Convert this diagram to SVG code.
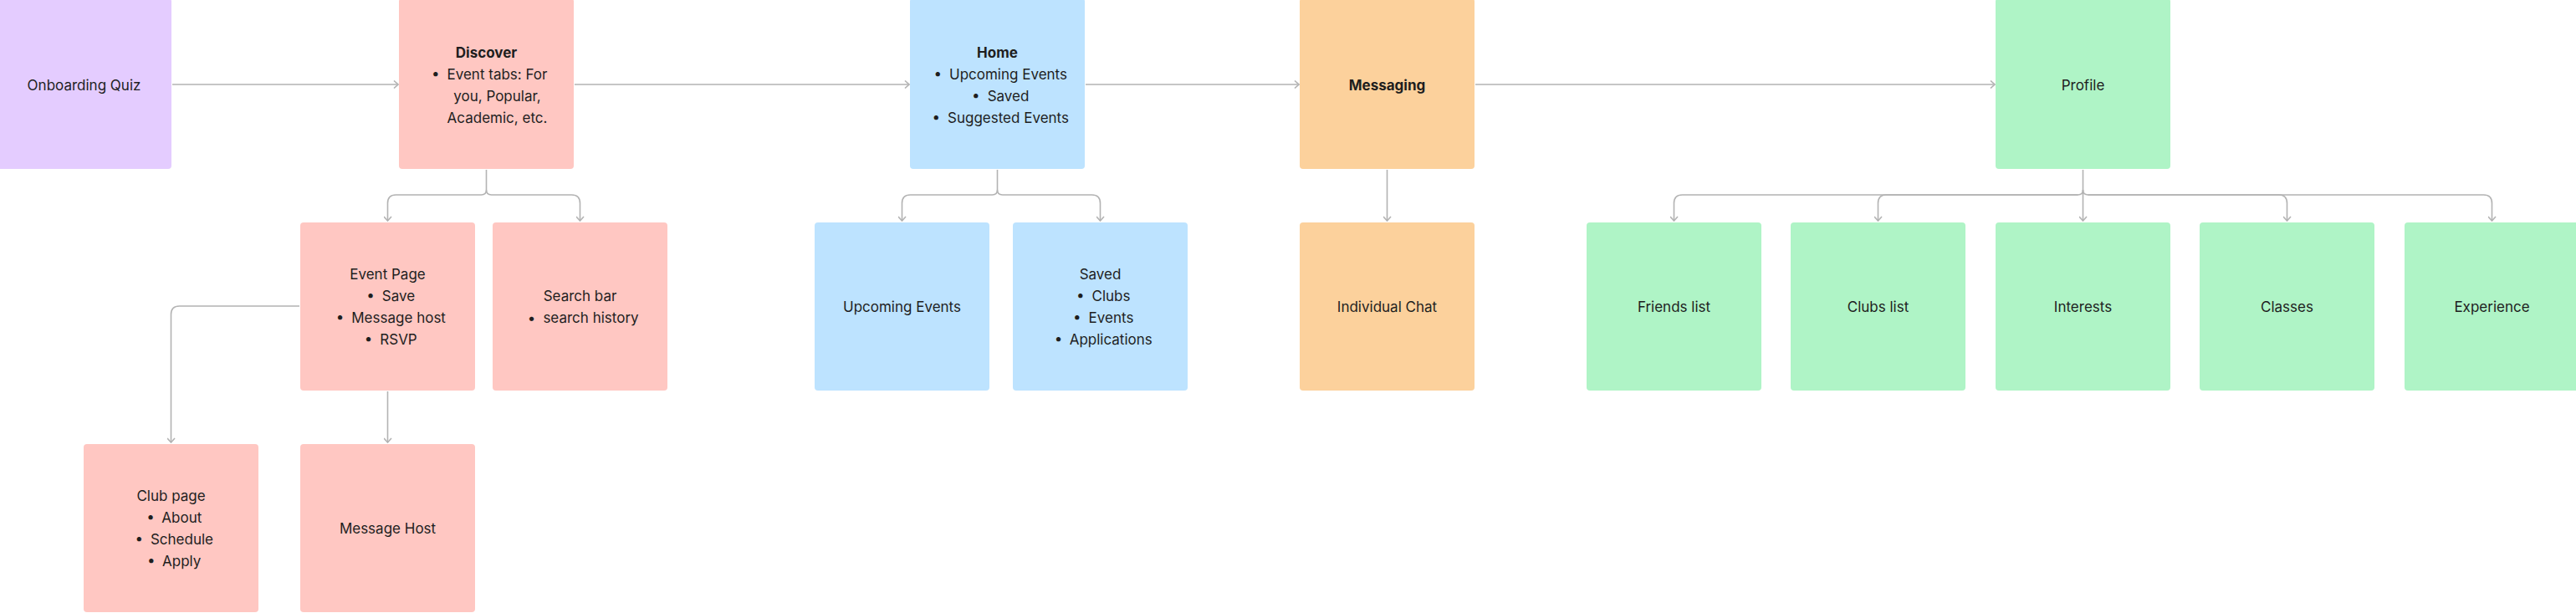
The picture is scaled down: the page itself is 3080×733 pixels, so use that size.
<svg xmlns="http://www.w3.org/2000/svg" width="3080" height="733" viewBox="0 0 3080 733">
<style>
.box{stroke:none}
.violet{fill:#E4CCFF}
.red{fill:#FFC7C2}
.blue{fill:#BDE3FF}
.orange{fill:#FCD19C}
.green{fill:#AFF4C6}
text{font-family:Inter,"Noto Sans","Liberation Sans",sans-serif;font-size:17px;fill:#1e1e1e;text-anchor:middle}
.b{font-weight:700}
.pad{fill:none}
.conn path{fill:none;stroke:#b3b3b3;stroke-width:1.6}
</style>
<defs>
<marker id="arr" viewBox="0 0 10 10" refX="9" refY="5" markerWidth="10" markerHeight="10" markerUnits="userSpaceOnUse" orient="auto">
<path d="M4,0.5 L9,5 L4,9.5" fill="none" stroke="#b3b3b3" stroke-width="1.6"/>
</marker>
</defs>
<rect width="3080" height="733" fill="#ffffff"/>

<g class="conn">
<path d="M206,101 H476" marker-end="url(#arr)"/>
<path d="M687,101 H1087" marker-end="url(#arr)"/>
<path d="M1298,101 H1553" marker-end="url(#arr)"/>
<path d="M1764,101 H2385" marker-end="url(#arr)"/>
<path d="M581.5,203 V227 Q581.5,233 575.5,233 H473.5 Q463.5,233 463.5,243 V264" marker-end="url(#arr)"/>
<path d="M581.5,227 Q581.5,233 587.5,233 H683.5 Q693.5,233 693.5,243 V264" marker-end="url(#arr)"/>
<path d="M358,366 H214.5 Q204.5,366 204.5,376 V529" marker-end="url(#arr)"/>
<path d="M463.5,468 V529" marker-end="url(#arr)"/>
<path d="M1192.5,203 V227 Q1192.5,233 1186.5,233 H1088.5 Q1078.5,233 1078.5,243 V264" marker-end="url(#arr)"/>
<path d="M1192.5,227 Q1192.5,233 1198.5,233 H1305.5 Q1315.5,233 1315.5,243 V264" marker-end="url(#arr)"/>
<path d="M1658.5,203 V264" marker-end="url(#arr)"/>
<path d="M2490.5,203 V264" marker-end="url(#arr)"/>
<path d="M2490.5,227 Q2490.5,233 2484.5,233 H2011.5 Q2001.5,233 2001.5,243 V264" marker-end="url(#arr)"/>
<path d="M2484.5,233 H2255.5 Q2245.5,233 2245.5,243 V264" marker-end="url(#arr)"/>
<path d="M2490.5,227 Q2490.5,233 2496.5,233 H2969.5 Q2979.5,233 2979.5,243 V264" marker-end="url(#arr)"/>
<path d="M2496.5,233 H2724.5 Q2734.5,233 2734.5,243 V264" marker-end="url(#arr)"/>
</g>

<g id="onboarding-quiz">
<rect class="box violet" x="-4" y="-2" width="209" height="204" rx="4"/>
<text x="100.5" y="108">Onboarding Quiz</text>
</g>

<g id="discover">
<rect class="box red" x="477" y="-2" width="209" height="204" rx="4"/>
<text class="b" x="581.5" y="69">Discover</text>
<text x="594.5" y="95"><tspan>•</tspan><tspan dx="9">Event tabs: For</tspan><tspan class="pad" dx="9">•</tspan></text>
<text x="594.5" y="121">you, Popular,</text>
<text x="594.5" y="147">Academic, etc.</text>
</g>

<g id="home">
<rect class="box blue" x="1088" y="-2" width="209" height="204" rx="4"/>
<text class="b" x="1192.5" y="69">Home</text>
<text x="1205.5" y="95"><tspan>•</tspan><tspan dx="9">Upcoming Events</tspan><tspan class="pad" dx="9">•</tspan></text>
<text x="1205.5" y="121"><tspan>•</tspan><tspan dx="9">Saved</tspan><tspan class="pad" dx="9">•</tspan></text>
<text x="1205.5" y="147"><tspan>•</tspan><tspan dx="9">Suggested Events</tspan><tspan class="pad" dx="9">•</tspan></text>
</g>

<g id="messaging">
<rect class="box orange" x="1554" y="-2" width="209" height="204" rx="4"/>
<text class="b" x="1658.5" y="108">Messaging</text>
</g>

<g id="profile">
<rect class="box green" x="2386" y="-2" width="209" height="204" rx="4"/>
<text x="2490.5" y="108">Profile</text>
</g>

<g id="event-page">
<rect class="box red" x="359" y="266" width="209" height="201" rx="4"/>
<text x="463.5" y="334">Event Page</text>
<text x="476.5" y="360"><tspan>•</tspan><tspan dx="9">Save</tspan><tspan class="pad" dx="9">•</tspan></text>
<text x="476.5" y="386"><tspan>•</tspan><tspan dx="9">Message host</tspan><tspan class="pad" dx="9">•</tspan></text>
<text x="476.5" y="412"><tspan>•</tspan><tspan dx="9">RSVP</tspan><tspan class="pad" dx="9">•</tspan></text>
</g>

<g id="search-bar">
<rect class="box red" x="589" y="266" width="209" height="201" rx="4"/>
<text x="693.5" y="360">Search bar</text>
<text x="706.5" y="386"><tspan>•</tspan><tspan dx="9">search history</tspan><tspan class="pad" dx="9">•</tspan></text>
</g>

<g id="club-page">
<rect class="box red" x="100" y="531" width="209" height="201" rx="4"/>
<text x="204.5" y="599">Club page</text>
<text x="217.5" y="625"><tspan>•</tspan><tspan dx="9">About</tspan><tspan class="pad" dx="9">•</tspan></text>
<text x="217.5" y="651"><tspan>•</tspan><tspan dx="9">Schedule</tspan><tspan class="pad" dx="9">•</tspan></text>
<text x="217.5" y="677"><tspan>•</tspan><tspan dx="9">Apply</tspan><tspan class="pad" dx="9">•</tspan></text>
</g>

<g id="message-host">
<rect class="box red" x="359" y="531" width="209" height="201" rx="4"/>
<text x="463.5" y="638">Message Host</text>
</g>

<g id="upcoming-events">
<rect class="box blue" x="974" y="266" width="209" height="201" rx="4"/>
<text x="1078.5" y="373">Upcoming Events</text>
</g>

<g id="saved">
<rect class="box blue" x="1211" y="266" width="209" height="201" rx="4"/>
<text x="1315.5" y="334">Saved</text>
<text x="1328.5" y="360"><tspan>•</tspan><tspan dx="9">Clubs</tspan><tspan class="pad" dx="9">•</tspan></text>
<text x="1328.5" y="386"><tspan>•</tspan><tspan dx="9">Events</tspan><tspan class="pad" dx="9">•</tspan></text>
<text x="1328.5" y="412"><tspan>•</tspan><tspan dx="9">Applications</tspan><tspan class="pad" dx="9">•</tspan></text>
</g>

<g id="individual-chat">
<rect class="box orange" x="1554" y="266" width="209" height="201" rx="4"/>
<text x="1658.5" y="373">Individual Chat</text>
</g>

<g id="friends-list">
<rect class="box green" x="1897" y="266" width="209" height="201" rx="4"/>
<text x="2001.5" y="373">Friends list</text>
</g>

<g id="clubs-list">
<rect class="box green" x="2141" y="266" width="209" height="201" rx="4"/>
<text x="2245.5" y="373">Clubs list</text>
</g>

<g id="interests">
<rect class="box green" x="2386" y="266" width="209" height="201" rx="4"/>
<text x="2490.5" y="373">Interests</text>
</g>

<g id="classes">
<rect class="box green" x="2630" y="266" width="209" height="201" rx="4"/>
<text x="2734.5" y="373">Classes</text>
</g>

<g id="experience">
<rect class="box green" x="2875" y="266" width="209" height="201" rx="4"/>
<text x="2979.5" y="373">Experience</text>
</g>
</svg>
